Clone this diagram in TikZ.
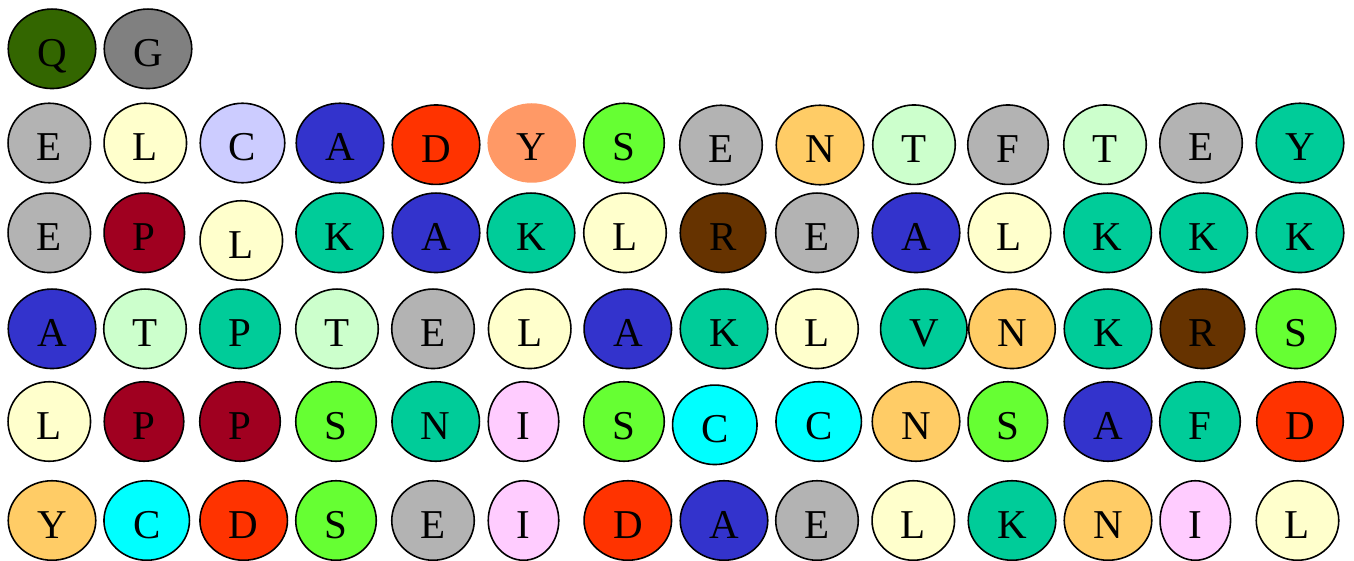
\documentclass[tikz,border=0pt]{standalone}
\usepackage{fontspec}
\setmainfont{Liberation Serif}
\usetikzlibrary{shapes.geometric}
\definecolor{cQ}{HTML}{336600}
\definecolor{cG}{HTML}{808080}
\definecolor{cgrey}{HTML}{B3B3B3}
\definecolor{cyel}{HTML}{FFFFCC}
\definecolor{clav}{HTML}{CCCCFF}
\definecolor{cblue}{HTML}{3333CC}
\definecolor{cred}{HTML}{FF3300}
\definecolor{csalmon}{HTML}{FF9966}
\definecolor{cgreen}{HTML}{66FF33}
\definecolor{corange}{HTML}{FFCC66}
\definecolor{cmint}{HTML}{CCFFCC}
\definecolor{cteal}{HTML}{00CC99}
\definecolor{cwine}{HTML}{A00020}
\definecolor{cbrown}{HTML}{663300}
\definecolor{cpink}{HTML}{FFCCFF}
\definecolor{ccyan}{HTML}{00FFFF}
\tikzset{
  bub/.style={ellipse, draw=black, line width=1.6pt, inner sep=0pt,
    minimum height=79.5pt, text height=36pt, text depth=0pt,
    font=\fontsize{41}{41}\selectfont},
  w72/.style={minimum width=70.5pt},
  w81/.style={minimum width=79.5pt},
  w82/.style={minimum width=80.5pt},
  w84/.style={minimum width=82.5pt},
  w86/.style={minimum width=84.5pt},
  w87/.style={minimum width=85.5pt},
  w88/.style={minimum width=86.5pt},
  w89/.style={minimum width=87.5pt},
  w90/.style={minimum width=88.5pt},
}
\begin{document}
\begin{tikzpicture}[x=1pt,y=-1pt]
\useasboundingbox (0,0) rectangle (1354,561);
% row 0
\node[bub,w89,fill=cQ] (r0a) at (52,48.8) {Q};
\node[bub,w89,fill=cG] (r0b) at (148,48.8) {G};
% row 1
\node[bub,w84,fill=cgrey] (r1a) at (49.3,143) {E};
\node[bub,w84,fill=cyel] (r1b) at (145.3,143) {L};
\node[bub,w86,fill=clav] (r1c) at (242.5,143) {C};
\node[bub,w89,fill=cblue] (r1d) at (340,143) {A};
\node[bub,w89,fill=cred] (r1e) at (436,144.7) {D};
\node[bub,w90,fill=csalmon,draw=none] (r1f) at (531.7,143) {Y};
\node[bub,w82,fill=cgreen] (r1g) at (624,143) {S};
\node[bub,w84,fill=cgrey] (r1h) at (721,145) {E};
\node[bub,w89,fill=corange] (r1i) at (820,145) {N};
\node[bub,w84,fill=cmint] (r1j) at (914,144.7) {T};
\node[bub,w82,fill=cgrey] (r1k) at (1008,144.7) {F};
\node[bub,w84,fill=cmint] (r1l) at (1105,144.7) {T};
\node[bub,w84,fill=cgrey] (r1m) at (1201,143) {E};
\node[bub,w89,fill=cteal] (r1n) at (1300,143) {Y};
% row 2
\node[bub,w84,fill=cgrey] (r2a) at (49.3,232.8) {E};
\node[bub,w82,fill=cwine] (r2b) at (144.3,232.8) {P};
\node[bub,w84,fill=cyel] (r2c) at (241.3,240.5) {L};
\node[bub,w89,fill=cteal] (r2d) at (339.7,232.8) {K};
\node[bub,w89,fill=cblue] (r2e) at (436,232.8) {A};
\node[bub,w89,fill=cteal] (r2f) at (531,232.8) {K};
\node[bub,w84,fill=cyel] (r2g) at (625,232.8) {L};
\node[bub,w87,fill=cbrown] (r2h) at (723,232.8) {R};
\node[bub,w84,fill=cgrey] (r2i) at (817,232.8) {E};
\node[bub,w89,fill=cblue] (r2j) at (916,232.8) {A};
\node[bub,w84,fill=cyel] (r2k) at (1009.5,232.8) {L};
\node[bub,w89,fill=cteal] (r2l) at (1107.7,232.8) {K};
\node[bub,w89,fill=cteal] (r2m) at (1203.7,232.8) {K};
\node[bub,w89,fill=cteal] (r2n) at (1300,232.8) {K};
% row 3
\node[bub,w89,fill=cblue] (r3a) at (52,328.8) {A};
\node[bub,w84,fill=cmint] (r3b) at (145,328.8) {T};
\node[bub,w82,fill=cteal] (r3c) at (240,328.8) {P};
\node[bub,w84,fill=cmint] (r3d) at (337,328.8) {T};
\node[bub,w84,fill=cgrey] (r3e) at (433,328.8) {E};
\node[bub,w84,fill=cyel] (r3f) at (529.7,328.8) {L};
\node[bub,w89,fill=cblue] (r3g) at (627.8,328.8) {A};
\node[bub,w89,fill=cteal] (r3h) at (724,328.8) {K};
\node[bub,w84,fill=cyel] (r3i) at (817,328.8) {L};
\node[bub,w88,fill=cteal] (r3j) at (923.8,328.8) {V};
\node[bub,w88,fill=corange] (r3k) at (1012,328.8) {N};
\node[bub,w89,fill=cteal] (r3l) at (1108,328.8) {K};
\node[bub,w86,fill=cbrown] (r3m) at (1202.5,328.8) {R};
\node[bub,w81,fill=cgreen] (r3n) at (1296,328.8) {S};
% row 4
\node[bub,w84,fill=cyel] (r4a) at (49.3,421.5) {L};
\node[bub,w81,fill=cwine] (r4b) at (144,421.5) {P};
\node[bub,w82,fill=cwine] (r4c) at (240,421.5) {P};
\node[bub,w82,fill=cgreen] (r4d) at (336,421.5) {S};
\node[bub,w89,fill=cteal] (r4e) at (435.7,421.5) {N};
\node[bub,w72,fill=cpink] (r4f) at (523.5,421.5) {I};
\node[bub,w82,fill=cgreen] (r4g) at (624,421.5) {S};
\node[bub,w86,fill=ccyan] (r4h) at (714.8,424.8) {C};
\node[bub,w87,fill=ccyan] (r4i) at (818.7,421.5) {C};
\node[bub,w89,fill=corange] (r4j) at (916,421.5) {N};
\node[bub,w81,fill=cgreen] (r4k) at (1007.8,421.5) {S};
\node[bub,w89,fill=cblue] (r4l) at (1108,421.5) {A};
\node[bub,w82,fill=cteal] (r4m) at (1200,421.5) {F};
\node[bub,w88,fill=cred] (r4n) at (1300,421.5) {D};
% row 5
\node[bub,w89,fill=corange] (r5a) at (52,520.5) {Y};
\node[bub,w87,fill=ccyan] (r5b) at (146.7,520.5) {C};
\node[bub,w89,fill=cred] (r5c) at (243.7,520.5) {D};
\node[bub,w82,fill=cgreen] (r5d) at (336,520.5) {S};
\node[bub,w84,fill=cgrey] (r5e) at (433,520.5) {E};
\node[bub,w72,fill=cpink] (r5f) at (523.5,520.5) {I};
\node[bub,w89,fill=cred] (r5g) at (627.8,520.5) {D};
\node[bub,w89,fill=cblue] (r5h) at (724,520.5) {A};
\node[bub,w84,fill=cgrey] (r5i) at (817,520.5) {E};
\node[bub,w84,fill=cyel] (r5j) at (913.3,520.5) {L};
\node[bub,w89,fill=cteal] (r5k) at (1012,520.5) {K};
\node[bub,w89,fill=corange] (r5l) at (1108,520.5) {N};
\node[bub,w72,fill=cpink] (r5m) at (1195.3,520.5) {I};
\node[bub,w84,fill=cyel] (r5n) at (1297.5,520.5) {L};
\end{tikzpicture}
\end{document}
